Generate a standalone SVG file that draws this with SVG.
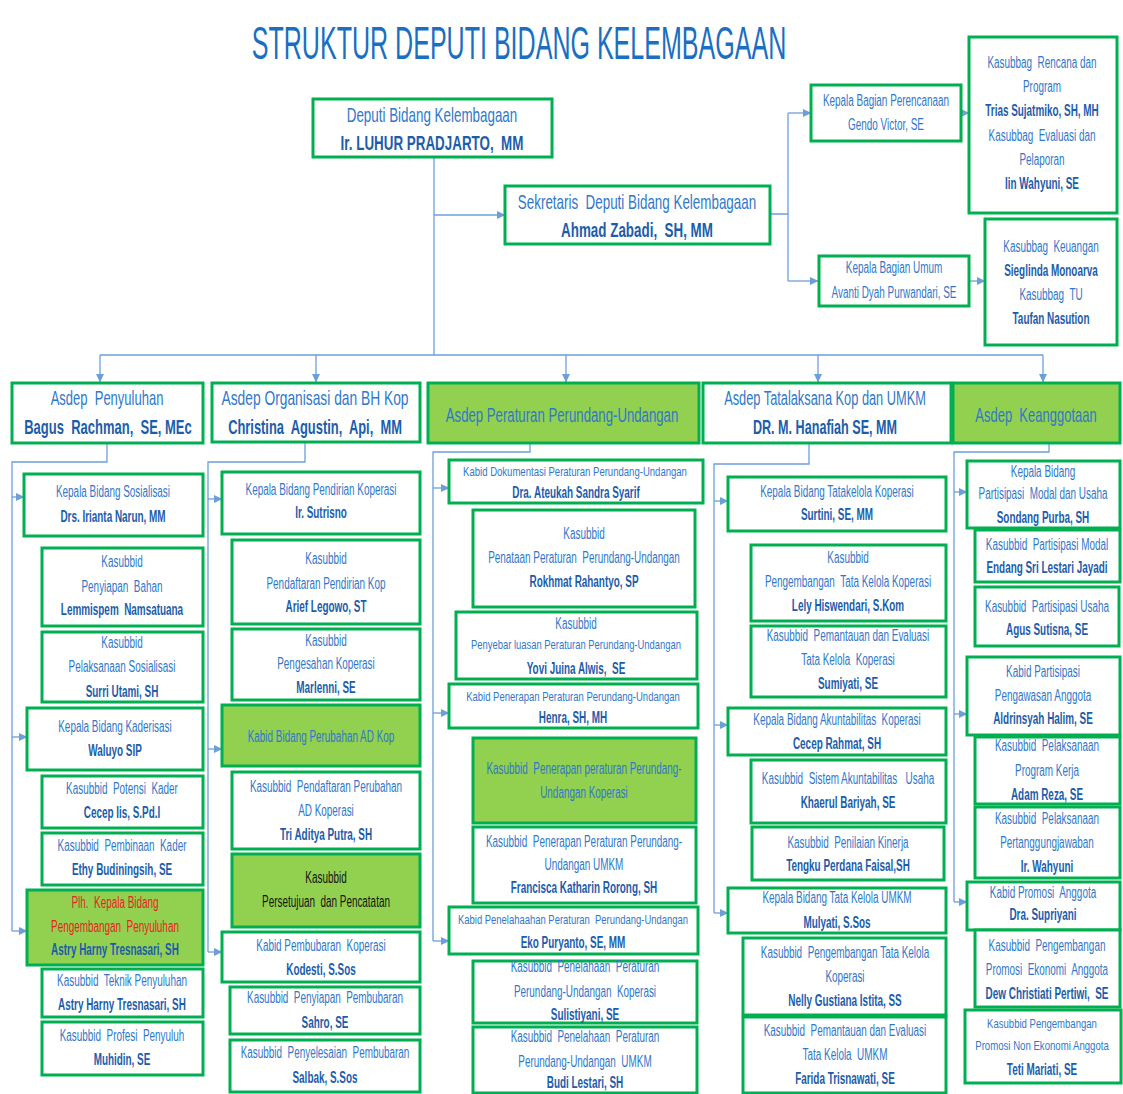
<svg xmlns="http://www.w3.org/2000/svg" width="1123" height="1094" viewBox="0 0 1123 1094">
<style>
.bx{fill:#fff;stroke:#00B050;stroke-width:3}
.gf{fill:#92D050;stroke:#00B050;stroke-width:3}
text{font-family:"Liberation Sans",Arial,sans-serif;font-size:16px;text-anchor:middle;fill:#3078C8;white-space:pre}
.b{font-weight:bold;fill:#1C5DAA}
.r{fill:#E8231F}
.k{fill:#151515}
.L{font-size:20px}
.s{font-size:13px}
.t{font-size:47px;fill:#1A6FC1}
.cn{fill:none;stroke:#6C9FDA;stroke-width:1.3}
.ar{fill:none;stroke:#6C9FDA;stroke-width:1.3;marker-end:url(#ah)}
</style>
<defs>
<marker id="ah" markerWidth="9" markerHeight="9" refX="8" refY="4.5" orient="auto" markerUnits="userSpaceOnUse"><path d="M0,0.5 L8.5,4.5 L0,8.5z" fill="#6C9FDA"/></marker>
</defs>
<rect width="1123" height="1094" fill="#fff"/>
<text class="t" transform="translate(519 59) scale(.533 1)">STRUKTUR DEPUTI BIDANG KELEMBAGAAN</text>

<g id="connectors">
<path class="cn" d="M434,157 V355 M100,355 H1043 M770,214 H788 M788,113 V281"/>
<path class="ar" d="M434,215 H505"/>
<path class="ar" d="M788,113 H811"/>
<path class="ar" d="M788,281 H818"/>
<path class="ar" d="M961,113 H969"/>
<path class="ar" d="M969,281 H985"/>
<path class="ar" d="M100,355 V382"/>
<path class="ar" d="M316,355 V382"/>
<path class="ar" d="M566,355 V382"/>
<path class="ar" d="M818,355 V382"/>
<path class="ar" d="M1043,355 V382"/>
<path class="cn" d="M107,443 V462 H12 V931"/>
<path class="ar" d="M12,497 H24"/>
<path class="ar" d="M12,737 H27"/>
<path class="ar" d="M12,931 H27"/>
<path class="cn" d="M305,442 V462 H208 V952"/>
<path class="ar" d="M208,499 H222"/>
<path class="ar" d="M208,749 H222"/>
<path class="ar" d="M208,952 H222"/>
<path class="cn" d="M530,443 V452 H433 V941"/>
<path class="ar" d="M433,488 H449"/>
<path class="ar" d="M433,713 H449"/>
<path class="ar" d="M433,941 H449"/>
<path class="cn" d="M809,443 V464 H714 V913"/>
<path class="ar" d="M714,501 H728"/>
<path class="ar" d="M714,725 H728"/>
<path class="ar" d="M714,913 H728"/>
<path class="cn" d="M1049,443 V452 H954 V902"/>
<path class="ar" d="M954,492 H967"/>
<path class="ar" d="M954,714 H967"/>
<path class="ar" d="M954,902 H967"/>
</g>

<g id="deputi"><rect class="bx" x="313" y="99" width="239" height="58"/>
<text class="L" transform="translate(432 122) scale(.67 1)">Deputi Bidang Kelembagaan</text>
<text class="L b" transform="translate(432 150) scale(.67 1)">Ir. LUHUR PRADJARTO,  MM</text></g>

<g id="sekretaris"><rect class="bx" x="505" y="186" width="265" height="58"/>
<text class="L" transform="translate(637 209) scale(.67 1)">Sekretaris  Deputi Bidang Kelembagaan</text>
<text class="L b" transform="translate(637 237) scale(.67 1)">Ahmad Zabadi,  SH, MM</text></g>

<g id="perencanaan"><rect class="bx" x="811" y="85" width="150" height="56"/>
<text transform="translate(886 106) scale(.62 1)">Kepala Bagian Perencanaan</text>
<text transform="translate(886 130) scale(.62 1)">Gendo Victor, SE</text></g>

<g id="rencana"><rect class="bx" x="969" y="37" width="148" height="176"/>
<text transform="translate(1042 68) scale(.62 1)">Kasubbag  Rencana dan</text>
<text transform="translate(1042 92) scale(.62 1)">Program</text>
<text class="b" transform="translate(1042 116) scale(.62 1)">Trias Sujatmiko, SH, MH</text>
<text transform="translate(1042 141) scale(.62 1)">Kasubbag  Evaluasi dan</text>
<text transform="translate(1042 165) scale(.62 1)">Pelaporan</text>
<text class="b" transform="translate(1042 189) scale(.62 1)">Iin Wahyuni, SE</text></g>

<g id="umum"><rect class="bx" x="819" y="256" width="150" height="50"/>
<text transform="translate(894 273) scale(.62 1)">Kepala Bagian Umum</text>
<text transform="translate(894 298) scale(.62 1)">Avanti Dyah Purwandari, SE</text></g>

<g id="keuangan"><rect class="bx" x="985" y="219" width="132" height="126"/>
<text transform="translate(1051 252) scale(.62 1)">Kasubbag  Keuangan</text>
<text class="b" transform="translate(1051 276) scale(.62 1)">Sieglinda Monoarva</text>
<text transform="translate(1051 300) scale(.62 1)">Kasubbag  TU</text>
<text class="b" transform="translate(1051 324) scale(.62 1)">Taufan Nasution</text></g>

<g id="asdep1"><rect class="bx" x="12" y="383" width="191" height="60"/>
<text class="L" transform="translate(107 405) scale(.65 1)">Asdep  Penyuluhan</text>
<text class="L b" transform="translate(108 434) scale(.65 1)">Bagus  Rachman,  SE, MEc</text></g>

<g id="asdep2"><rect class="bx" x="212" y="383" width="208" height="59"/>
<text class="L" transform="translate(315 405) scale(.69 1)">Asdep Organisasi dan BH Kop</text>
<text class="L b" transform="translate(315 434) scale(.645 1)">Christina  Agustin,  Api,  MM</text></g>

<g id="asdep3"><rect class="gf" x="428" y="383" width="271" height="60"/>
<text class="L" transform="translate(562 422) scale(.66 1)">Asdep Peraturan Perundang-Undangan</text></g>

<g id="asdep4"><rect class="bx" x="703" y="383" width="248" height="60"/>
<text class="L" transform="translate(825 405) scale(.64 1)">Asdep Tatalaksana Kop dan UMKM</text>
<text class="L b" transform="translate(825 434) scale(.63 1)">DR. M. Hanafiah SE, MM</text></g>

<g id="asdep5"><rect class="gf" x="953" y="383" width="167" height="60"/>
<text class="L" transform="translate(1036 422) scale(.65 1)">Asdep  Keanggotaan</text></g>

<g id="c1k1"><rect class="bx" x="24" y="474" width="179" height="62"/>
<text transform="translate(113 497) scale(.62 1)">Kepala Bidang Sosialisasi</text>
<text class="b" transform="translate(113 522) scale(.62 1)">Drs. Irianta Narun, MM</text></g>
<g id="c1s1"><rect class="bx" x="42" y="548" width="161" height="78"/>
<text transform="translate(122 567) scale(.62 1)">Kasubbid</text>
<text transform="translate(122 592) scale(.62 1)">Penyiapan  Bahan</text>
<text class="b" transform="translate(122 615) scale(.62 1)">Lemmispem  Namsatuana</text></g>
<g id="c1s2"><rect class="bx" x="42" y="632" width="161" height="70"/>
<text transform="translate(122 648) scale(.62 1)">Kasubbid</text>
<text transform="translate(122 672) scale(.62 1)">Pelaksanaan Sosialisasi</text>
<text class="b" transform="translate(122 697) scale(.62 1)">Surri Utami, SH</text></g>
<g id="c1k2"><rect class="bx" x="27" y="708" width="176" height="62"/>
<text transform="translate(115 732) scale(.62 1)">Kepala Bidang Kaderisasi</text>
<text class="b" transform="translate(115 756) scale(.62 1)">Waluyo SIP</text></g>
<g id="c1s3"><rect class="bx" x="42" y="776" width="161" height="52"/>
<text transform="translate(122 794) scale(.62 1)">Kasubbid  Potensi  Kader</text>
<text class="b" transform="translate(122 818) scale(.62 1)">Cecep Iis, S.Pd.I</text></g>
<g id="c1s4"><rect class="bx" x="42" y="833" width="161" height="52"/>
<text transform="translate(122 851) scale(.62 1)">Kasubbid  Pembinaan  Kader</text>
<text class="b" transform="translate(122 875) scale(.62 1)">Ethy Budiningsih, SE</text></g>
<g id="c1k3"><rect class="gf" x="27" y="890" width="176" height="75"/>
<text class="r" transform="translate(115 908) scale(.62 1)">Plh.  Kepala Bidang</text>
<text class="r" transform="translate(115 932) scale(.62 1)">Pengembangan  Penyuluhan</text>
<text class="b" transform="translate(115 955) scale(.62 1)">Astry Harny Tresnasari, SH</text></g>
<g id="c1s5"><rect class="bx" x="42" y="969" width="161" height="48"/>
<text transform="translate(122 986) scale(.62 1)">Kasubbid  Teknik Penyuluhan</text>
<text class="b" transform="translate(122 1010) scale(.62 1)">Astry Harny Tresnasari, SH</text></g>
<g id="c1s6"><rect class="bx" x="42" y="1022" width="161" height="53"/>
<text transform="translate(122 1041) scale(.62 1)">Kasubbid  Profesi  Penyuluh</text>
<text class="b" transform="translate(122 1065) scale(.62 1)">Muhidin, SE</text></g>

<g id="c2k1"><rect class="bx" x="222" y="472" width="198" height="62"/>
<text transform="translate(321 495) scale(.62 1)">Kepala Bidang Pendirian Koperasi</text>
<text class="b" transform="translate(321 518) scale(.62 1)">Ir. Sutrisno</text></g>
<g id="c2s1"><rect class="bx" x="232" y="540" width="188" height="84"/>
<text transform="translate(326 564) scale(.62 1)">Kasubbid</text>
<text transform="translate(326 589) scale(.62 1)">Pendaftaran Pendirian Kop</text>
<text class="b" transform="translate(326 612) scale(.62 1)">Arief Legowo, ST</text></g>
<g id="c2s2"><rect class="bx" x="232" y="629" width="188" height="71"/>
<text transform="translate(326 646) scale(.62 1)">Kasubbid</text>
<text transform="translate(326 669) scale(.62 1)">Pengesahan Koperasi</text>
<text class="b" transform="translate(326 693) scale(.62 1)">Marlenni, SE</text></g>
<g id="c2k2"><rect class="gf" x="222" y="705" width="198" height="61"/>
<text transform="translate(321 742) scale(.62 1)">Kabid Bidang Perubahan AD Kop</text></g>
<g id="c2s3"><rect class="bx" x="232" y="772" width="188" height="77"/>
<text transform="translate(326 792) scale(.62 1)">Kasubbid  Pendaftaran Perubahan</text>
<text transform="translate(326 816) scale(.62 1)">AD Koperasi</text>
<text class="b" transform="translate(326 840) scale(.62 1)">Tri Aditya Putra, SH</text></g>
<g id="c2s4"><rect class="gf" x="232" y="854" width="188" height="73"/>
<text class="k" transform="translate(326 883) scale(.62 1)">Kasubbid</text>
<text class="k" transform="translate(326 907) scale(.62 1)">Persetujuan  dan Pencatatan</text></g>
<g id="c2k3"><rect class="bx" x="222" y="932" width="198" height="50"/>
<text transform="translate(321 951) scale(.62 1)">Kabid Pembubaran  Koperasi</text>
<text class="b" transform="translate(321 975) scale(.62 1)">Kodesti, S.Sos</text></g>
<g id="c2s5"><rect class="bx" x="230" y="987" width="190" height="47"/>
<text transform="translate(325 1003) scale(.62 1)">Kasubbid  Penyiapan  Pembubaran</text>
<text class="b" transform="translate(325 1028) scale(.62 1)">Sahro, SE</text></g>
<g id="c2s6"><rect class="bx" x="230" y="1040" width="190" height="52"/>
<text transform="translate(325 1058) scale(.62 1)">Kasubbid  Penyelesaian  Pembubaran</text>
<text class="b" transform="translate(325 1083) scale(.62 1)">Salbak, S.Sos</text></g>

<g id="c3k1"><rect class="bx" x="449" y="460" width="254" height="43"/>
<text class="s" transform="translate(575 476) scale(.735 1)">Kabid Dokumentasi Peraturan Perundang-Undangan</text>
<text class="b" transform="translate(576 498) scale(.62 1)">Dra. Ateukah Sandra Syarif</text></g>
<g id="c3s1"><rect class="bx" x="473" y="510" width="222" height="97"/>
<text transform="translate(584 539) scale(.62 1)">Kasubbid</text>
<text transform="translate(584 563) scale(.62 1)">Penataan Peraturan  Perundang-Undangan</text>
<text class="b" transform="translate(584 587) scale(.62 1)">Rokhmat Rahantyo, SP</text></g>
<g id="c3s2"><rect class="bx" x="456" y="612" width="241" height="67"/>
<text transform="translate(576 629) scale(.62 1)">Kasubbid</text>
<text class="s" transform="translate(576 649) scale(.725 1)">Penyebar luasan Peraturan Perundang-Undangan</text>
<text class="b" transform="translate(576 674) scale(.62 1)">Yovi Juina Alwis,  SE</text></g>
<g id="c3k2"><rect class="bx" x="449" y="684" width="249" height="44"/>
<text class="s" transform="translate(573 701) scale(.73 1)">Kabid Penerapan Peraturan Perundang-Undangan</text>
<text class="b" transform="translate(573 723) scale(.62 1)">Henra, SH, MH</text></g>
<g id="c3s3"><rect class="gf" x="473" y="738" width="223" height="85"/>
<text transform="translate(584 774) scale(.62 1)">Kasubbid  Penerapan peraturan Perundang-</text>
<text transform="translate(584 798) scale(.62 1)">Undangan Koperasi</text></g>
<g id="c3s4"><rect class="bx" x="473" y="827" width="223" height="76"/>
<text transform="translate(584 847) scale(.62 1)">Kasubbid  Penerapan Peraturan Perundang-</text>
<text transform="translate(584 870) scale(.62 1)">Undangan UMKM</text>
<text class="b" transform="translate(584 893) scale(.62 1)">Francisca Katharin Rorong, SH</text></g>
<g id="c3k3"><rect class="bx" x="449" y="907" width="249" height="47"/>
<text class="s" transform="translate(573 924) scale(.727 1)">Kabid Penelahaahan Peraturan  Perundang-Undangan</text>
<text class="b" transform="translate(573 948) scale(.62 1)">Eko Puryanto, SE, MM</text></g>
<g id="c3s5"><rect class="bx" x="473" y="961" width="224" height="62"/>
<text transform="translate(585 972) scale(.62 1)">Kasubbid  Penelahaan  Peraturan</text>
<text transform="translate(585 997) scale(.62 1)">Perundang-Undangan  Koperasi</text>
<text class="b" transform="translate(585 1020) scale(.62 1)">Sulistiyani, SE</text></g>
<g id="c3s6"><rect class="bx" x="473" y="1027" width="224" height="66"/>
<text transform="translate(585 1042) scale(.62 1)">Kasubbid  Penelahaan  Peraturan</text>
<text transform="translate(585 1067) scale(.62 1)">Perundang-Undangan  UMKM</text>
<text class="b" transform="translate(585 1088) scale(.62 1)">Budi Lestari, SH</text></g>

<g id="c4k1"><rect class="bx" x="728" y="477" width="218" height="54"/>
<text transform="translate(837 497) scale(.62 1)">Kepala Bidang Tatakelola Koperasi</text>
<text class="b" transform="translate(837 520) scale(.62 1)">Surtini, SE, MM</text></g>
<g id="c4s1"><rect class="bx" x="751" y="545" width="195" height="76"/>
<text transform="translate(848 563) scale(.62 1)">Kasubbid</text>
<text transform="translate(848 587) scale(.62 1)">Pengembangan  Tata Kelola Koperasi</text>
<text class="b" transform="translate(848 611) scale(.62 1)">Lely Hiswendari, S.Kom</text></g>
<g id="c4s2"><rect class="bx" x="751" y="626" width="195" height="71"/>
<text transform="translate(848 641) scale(.62 1)">Kasubbid  Pemantauan dan Evaluasi</text>
<text transform="translate(848 665) scale(.62 1)">Tata Kelola  Koperasi</text>
<text class="b" transform="translate(848 689) scale(.62 1)">Sumiyati, SE</text></g>
<g id="c4k2"><rect class="bx" x="728" y="708" width="218" height="47"/>
<text transform="translate(837 725) scale(.62 1)">Kepala Bidang Akuntabilitas  Koperasi</text>
<text class="b" transform="translate(837 749) scale(.62 1)">Cecep Rahmat, SH</text></g>
<g id="c4s3"><rect class="bx" x="751" y="760" width="195" height="63"/>
<text transform="translate(848 784) scale(.62 1)">Kasubbid  Sistem Akuntabilitas   Usaha</text>
<text class="b" transform="translate(848 808) scale(.62 1)">Khaerul Bariyah, SE</text></g>
<g id="c4s4"><rect class="bx" x="752" y="827" width="192" height="53"/>
<text transform="translate(848 848) scale(.62 1)">Kasubbid  Penilaian Kinerja</text>
<text class="b" transform="translate(848 871) scale(.62 1)">Tengku Perdana Faisal,SH</text></g>
<g id="c4k3"><rect class="bx" x="728" y="888" width="218" height="45"/>
<text transform="translate(837 903) scale(.62 1)">Kepala Bidang Tata Kelola UMKM</text>
<text class="b" transform="translate(837 928) scale(.62 1)">Mulyati, S.Sos</text></g>
<g id="c4s5"><rect class="bx" x="743" y="938" width="203" height="77"/>
<text transform="translate(845 958) scale(.62 1)">Kasubbid  Pengembangan Tata Kelola</text>
<text transform="translate(845 982) scale(.62 1)">Koperasi</text>
<text class="b" transform="translate(845 1006) scale(.62 1)">Nelly Gustiana Istita, SS</text></g>
<g id="c4s6"><rect class="bx" x="743" y="1017" width="203" height="76"/>
<text transform="translate(845 1036) scale(.62 1)">Kasubbid  Pemantauan dan Evaluasi</text>
<text transform="translate(845 1060) scale(.62 1)">Tata Kelola  UMKM</text>
<text class="b" transform="translate(845 1084) scale(.62 1)">Farida Trisnawati, SE</text></g>

<g id="c5k1"><rect class="bx" x="967" y="461" width="153" height="67"/>
<text transform="translate(1043 477) scale(.62 1)">Kepala Bidang</text>
<text transform="translate(1043 499) scale(.62 1)">Partisipasi  Modal dan Usaha</text>
<text class="b" transform="translate(1043 523) scale(.62 1)">Sondang Purba, SH</text></g>
<g id="c5s1"><rect class="bx" x="975" y="530" width="145" height="52"/>
<text transform="translate(1047 550) scale(.62 1)">Kasubbid  Partisipasi Modal</text>
<text class="b" transform="translate(1047 573) scale(.62 1)">Endang Sri Lestari Jayadi</text></g>
<g id="c5s2"><rect class="bx" x="975" y="587" width="144" height="59"/>
<text transform="translate(1047 612) scale(.62 1)">Kasubbid  Partisipasi Usaha</text>
<text class="b" transform="translate(1047 635) scale(.62 1)">Agus Sutisna, SE</text></g>
<g id="c5k2"><rect class="bx" x="967" y="657" width="153" height="78"/>
<text transform="translate(1043 677) scale(.62 1)">Kabid Partisipasi</text>
<text transform="translate(1043 701) scale(.62 1)">Pengawasan Anggota</text>
<text class="b" transform="translate(1043 724) scale(.62 1)">Aldrinsyah Halim, SE</text></g>
<g id="c5s3"><rect class="bx" x="975" y="737" width="145" height="67"/>
<text transform="translate(1047 751) scale(.62 1)">Kasubbid  Pelaksanaan</text>
<text transform="translate(1047 776) scale(.62 1)">Program Kerja</text>
<text class="b" transform="translate(1047 800) scale(.62 1)">Adam Reza, SE</text></g>
<g id="c5s4"><rect class="bx" x="975" y="807" width="145" height="71"/>
<text transform="translate(1047 824) scale(.62 1)">Kasubbid  Pelaksanaan</text>
<text transform="translate(1047 848) scale(.62 1)">Pertanggungjawaban</text>
<text class="b" transform="translate(1047 872) scale(.62 1)">Ir. Wahyuni</text></g>
<g id="c5k3"><rect class="bx" x="967" y="882" width="153" height="48"/>
<text transform="translate(1043 898) scale(.62 1)">Kabid Promosi  Anggota</text>
<text class="b" transform="translate(1043 920) scale(.62 1)">Dra. Supriyani</text></g>
<g id="c5s5"><rect class="bx" x="975" y="930" width="145" height="77"/>
<text transform="translate(1047 951) scale(.62 1)">Kasubbid  Pengembangan</text>
<text transform="translate(1047 975) scale(.62 1)">Promosi  Ekonomi  Anggota</text>
<text class="b" transform="translate(1047 999) scale(.62 1)">Dew Christiati Pertiwi,  SE</text></g>
<g id="c5s6"><rect class="bx" x="965" y="1010" width="156" height="73"/>
<text class="s" transform="translate(1042 1028) scale(.735 1)">Kasubbid Pengembangan</text>
<text class="s" transform="translate(1042 1050) scale(.74 1)">Promosi Non Ekonomi Anggota</text>
<text class="b" transform="translate(1042 1075) scale(.62 1)">Teti Mariati, SE</text></g>
</svg>
